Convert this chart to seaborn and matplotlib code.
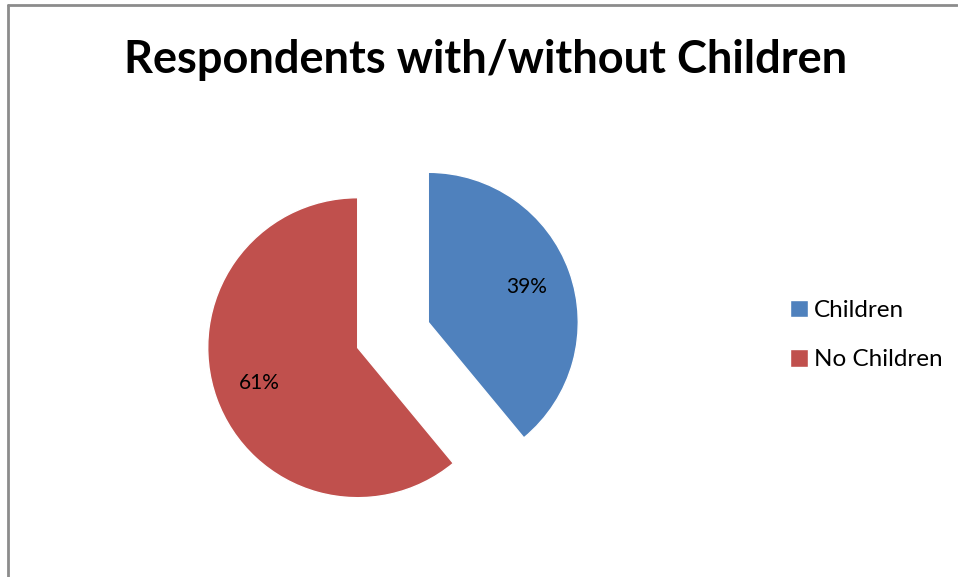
import matplotlib
matplotlib.use("Agg")
import matplotlib.pyplot as plt
import seaborn as sns
from matplotlib.lines import Line2D

# data
labels = ["Children", "No Children"]
shares = [39, 61]
colors = ["#4F81BD", "#C0504D"]
title = "Respondents with/without Children"

sns.set_theme(style="white")
plt.rcParams["font.family"] = ["Lato", "DejaVu Sans"]
plt.rcParams["text.color"] = "black"

W, H = 958, 577
fig = plt.figure(figsize=(W / 100, H / 100), dpi=100)
fig.patch.set_facecolor("white")

# pie axes: 150 px per radius unit, centre at (393, 335) image px
size = 480
cx, cy = 393, 335
ax = fig.add_axes([(cx - size / 2) / W, (H - cy - size / 2) / H, size / W, size / H])
wedges, texts, autotexts = ax.pie(
    shares,
    colors=colors,
    startangle=90,
    counterclock=False,
    explode=[0.25, 0.25],
    autopct="%1.0f%%",
    pctdistance=0.7,
    textprops={"fontsize": 15, "color": "black"},
)
ax.set_xlim(-1.6, 1.6)
ax.set_ylim(-1.6, 1.6)
ax.set_aspect("equal")
ax.axis("off")

fig.text(486 / W, 1 - 60 / H, title, ha="center", va="center",
         fontsize=32.5, fontweight="bold", color="black")

leg = fig.legend(wedges, labels, loc="center left",
                 bbox_to_anchor=(790 / W, 1 - 335 / H),
                 frameon=False, fontsize=17.5, handlelength=0.75, handleheight=0.75,
                 handletextpad=0.25, labelspacing=1.15, borderaxespad=0,
                 borderpad=0)
for t in leg.get_texts():
    t.set_color("black")

# chart border (left and top edges)
border = "#8c8c8c"
fig.add_artist(Line2D([8 / W, 8 / W], [0, 1 - 5 / H], color=border, lw=2))
fig.add_artist(Line2D([8 / W, 957 / W], [1 - 5 / H, 1 - 5 / H], color=border, lw=2))

fig.savefig("out.png", dpi=100, facecolor="white")
